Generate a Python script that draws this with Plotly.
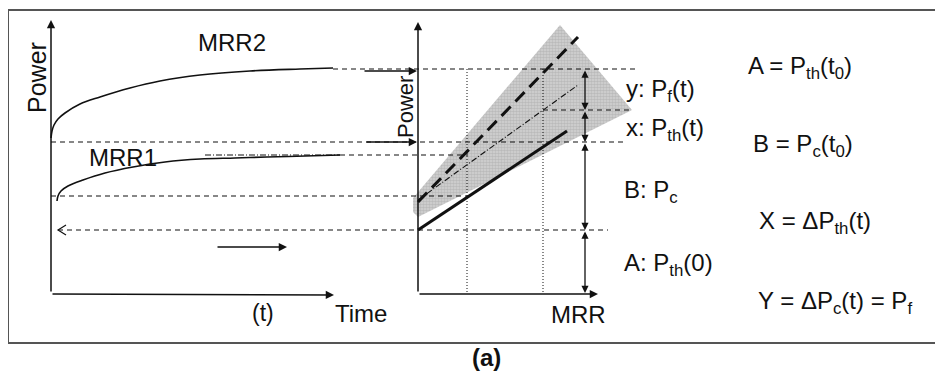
import plotly.graph_objects as go

W, H = 943, 376
PAGE_MARGIN = 8  # default body margin of the html page
FONT = "Liberation Sans, Arial, sans-serif"
INK = "#111111"

# ---- data (diagram units = picture pixels, y grows downward) ----
# left panel curves (Power vs Time)
mrr2_x = [51, 52, 54, 58, 65, 80, 100, 130, 160, 200, 250, 300, 333]
mrr2_y = [138, 131, 125, 119, 113, 104, 97, 88, 81, 75, 71, 69, 68]
mrr1_x = [57, 58, 61, 68, 83, 105, 133, 165, 200, 235, 267, 305, 340]
mrr1_y = [201, 196, 191, 186, 180, 173, 167, 162, 159, 158, 157, 156, 155]
mrr1_dashdot_x = [205, 340]
mrr1_dashdot_y = [155, 155]

# right panel (Power vs MRR)
solid_x = [418, 567]
solid_y = [230, 131]
longdash_x = [418, 578]
longdash_y = [202, 37]
dashdot_x = [418, 578]
dashdot_y = [200, 85]
wedge_x = [413, 560, 632, 418, 413, 413]
wedge_y = [198, 25, 110, 217, 212, 198]

# horizontal dashed guide lines
h_y = [69, 110, 142, 155, 196, 230]
h_x0 = [333, 543, 51, 340, 51, 58]
h_x1 = [635, 632, 627, 468, 468, 608]

# dotted verticals
v_x = [467, 543]
v_y0, v_y1 = 69, 293

# double-headed level arrows
lvl_x = 585
lvl_y = [69, 110, 142, 230, 293]

# single arrows: (x_tail, y_tail, x_head, y_head)
arrows = [
    (51, 293, 51, 20), (51, 294, 334, 295),
    (418, 293, 418, 22), (418, 294, 598, 294),
    (363, 71, 417, 71), (365, 142, 417, 142), (216, 247, 287, 247),
]

fig = go.Figure()

fig.add_trace(go.Scatter(x=wedge_x, y=wedge_y, fill="toself", mode="lines",
                         line=dict(width=0), fillcolor="rgb(200,200,200)",
                         fillpattern=dict(shape=".", size=3, solidity=0.6,
                                          fgcolor="rgb(160,160,160)",
                                          bgcolor="rgb(212,212,212)"),
                         hoverinfo="skip"))

for x0, x1, y in zip(h_x0, h_x1, h_y):
    fig.add_trace(go.Scatter(x=[x0, x1], y=[y, y], mode="lines",
                             line=dict(color=INK, width=1.2, dash="5px,4px"),
                             hoverinfo="skip"))
# open arrowhead on the y=230 return line
ah_x, ah_y = h_x0[5], h_y[5]
fig.add_trace(go.Scatter(x=[ah_x + 8, ah_x, ah_x + 8], y=[ah_y - 5, ah_y, ah_y + 5],
                         mode="lines", line=dict(color=INK, width=1.2), hoverinfo="skip"))

for vx in v_x:
    fig.add_trace(go.Scatter(x=[vx, vx], y=[v_y0, v_y1], mode="lines",
                             line=dict(color=INK, width=1, dash="1px,2px"),
                             hoverinfo="skip"))

fig.add_trace(go.Scatter(x=mrr2_x, y=mrr2_y, mode="lines", line=dict(color=INK, width=1.6, shape="spline"), hoverinfo="skip"))
fig.add_trace(go.Scatter(x=mrr1_x, y=mrr1_y, mode="lines", line=dict(color=INK, width=1.6, shape="spline"), hoverinfo="skip"))
fig.add_trace(go.Scatter(x=mrr1_dashdot_x, y=mrr1_dashdot_y, mode="lines", line=dict(color=INK, width=1, dash="6px,2px,1px,2px"), hoverinfo="skip"))

fig.add_trace(go.Scatter(x=solid_x, y=solid_y, mode="lines", line=dict(color=INK, width=3), hoverinfo="skip"))
fig.add_trace(go.Scatter(x=longdash_x, y=longdash_y, mode="lines", line=dict(color=INK, width=3, dash="13px,7px"), hoverinfo="skip"))
fig.add_trace(go.Scatter(x=dashdot_x, y=dashdot_y, mode="lines", line=dict(color=INK, width=1.1, dash="6px,2px,1px,2px"), hoverinfo="skip"))

ann = []
for xt, yt, xh, yh in arrows:
    ann.append(dict(x=xh, y=yh, ax=xt, ay=yt, xref="x", yref="y", axref="x", ayref="y",
                    text="", showarrow=True, arrowhead=2, arrowsize=1.1,
                    arrowwidth=1.5, arrowcolor=INK, standoff=0, startstandoff=0))
for ya, yb in zip(lvl_y[:-1], lvl_y[1:]):
    ann.append(dict(x=lvl_x, y=yb, ax=lvl_x, ay=ya, xref="x", yref="y", axref="x", ayref="y",
                    text="", showarrow=True, arrowhead=2, startarrowhead=2, arrowside="end+start",
                    arrowsize=1.1, startarrowsize=1.1,
                    arrowwidth=1.3, arrowcolor=INK, standoff=0, startstandoff=0))

labels = [
    ("Power", 37, 78, "center", 25, -90),
    ("MRR2", 232, 42, "center", 24, 0),
    ("MRR1", 123, 157, "center", 24, 0),
    ("(t)", 263, 313, "center", 23, 0),
    ("Time", 333, 313, "left", 24, 0),
    ("Power", 405, 107, "center", 22, -90),
    ("MRR", 578, 314, "center", 24, 0),
    ("y: P<sub>f</sub>(t)", 624, 90, "left", 24, 0),
    ("x: P<sub>th</sub>(t)", 624, 129, "left", 24, 0),
    ("B: P<sub>c</sub>", 622, 191, "left", 24, 0),
    ("A: P<sub>th</sub>(0)", 622, 264, "left", 24, 0),
    ("A = P<sub>th</sub>(t<sub>0</sub>)", 746, 67, "left", 24, 0),
    ("B = P<sub>c</sub>(t<sub>0</sub>)", 751, 145, "left", 24, 0),
    ("X = ΔP<sub>th</sub>(t)", 757, 222, "left", 24, 0),
    ("Y = ΔP<sub>c</sub>(t) = P<sub>f</sub>", 756, 302, "left", 24, 0),
]
for t, x, y, xa, s, ang in labels:
    ann.append(dict(x=x, y=y, xref="x", yref="y", text=t, showarrow=False,
                    xanchor=xa, yanchor="middle", textangle=ang,
                    font=dict(family=FONT, size=s, color=INK)))
ann.append(dict(x=486, y=357, xref="x", yref="y", text="<b>(a)</b>", showarrow=False,
                xanchor="center", yanchor="middle",
                font=dict(family=FONT, size=24, color=INK)))

shapes = [
    dict(type="line", xref="x", yref="y", x0=8, y0=10, x1=W, y1=10, line=dict(color="#555", width=2)),
    dict(type="line", xref="x", yref="y", x0=8, y0=343, x1=W, y1=343, line=dict(color="#555", width=2)),
    dict(type="line", xref="x", yref="y", x0=8, y0=10, x1=8, y1=343, line=dict(color="#555", width=2)),
]

# the page places the figure PAGE_MARGIN px from the top-left, so the figure
# covers the visible window from PAGE_MARGIN to W/H
fig.update_layout(
    width=W - PAGE_MARGIN, height=H - PAGE_MARGIN, margin=dict(l=0, r=0, t=0, b=0),
    paper_bgcolor="white", plot_bgcolor="white", showlegend=False,
    xaxis=dict(range=[PAGE_MARGIN, W], visible=False, fixedrange=True),
    yaxis=dict(range=[H, PAGE_MARGIN], visible=False, fixedrange=True),
    annotations=ann, shapes=shapes,
)
fig.write_html("out.html")
